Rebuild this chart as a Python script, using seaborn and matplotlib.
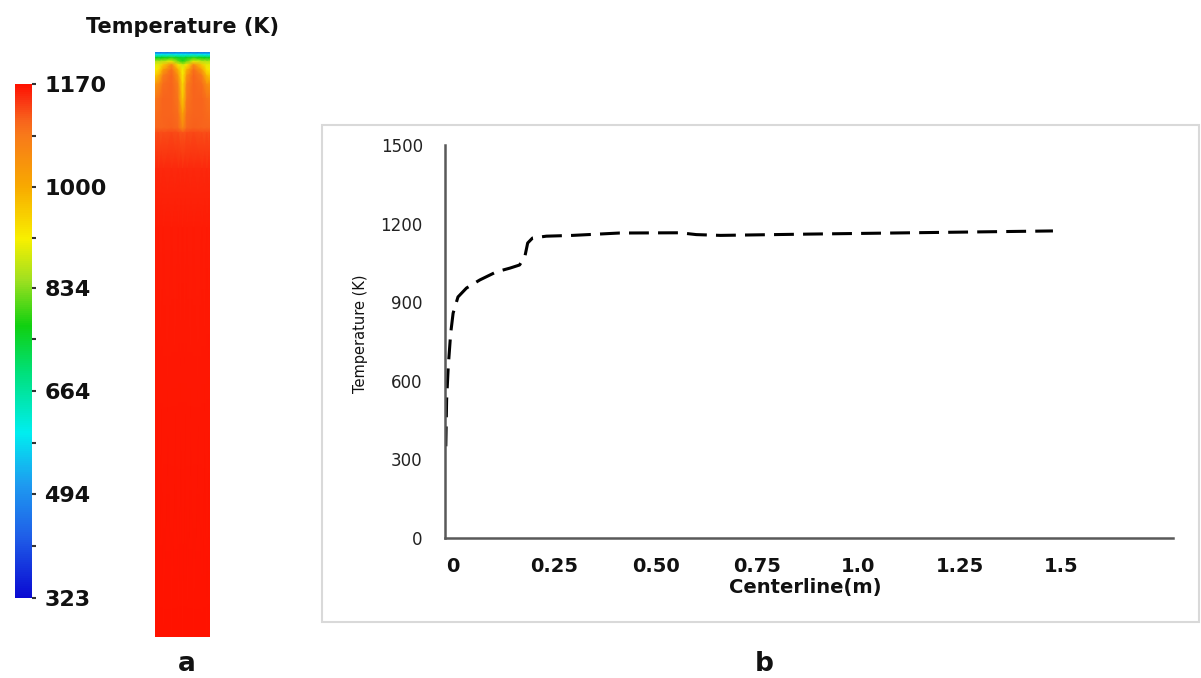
import numpy as np
import matplotlib
matplotlib.use("Agg")
import matplotlib.pyplot as plt
import matplotlib.transforms as mtransforms
from matplotlib.colors import LinearSegmentedColormap, Normalize
from matplotlib.patches import Rectangle
import seaborn as sns

# ---------------- data ----------------
centerline_m = [0.002, 0.004, 0.008, 0.014, 0.020, 0.032, 0.053, 0.086, 0.127,
                0.160, 0.184, 0.197, 0.204, 0.216, 0.25, 0.315, 0.43, 0.58,
                0.62, 0.68, 0.90, 1.10, 1.30, 1.50]
temperature_k = [350, 527, 654, 781, 858, 920, 954, 985, 1016,
                 1030, 1042, 1074, 1126, 1145, 1152, 1155, 1164, 1165,
                 1158, 1155, 1160, 1164, 1168, 1172]

y_ticks = [0, 300, 600, 900, 1200, 1500]
x_ticks = [0, 0.25, 0.5, 0.75, 1.0, 1.25, 1.5]
x_tick_labels = ["0", "0.25", "0.50", "0.75", "1.0", "1.25", "1.5"]

cbar_ticks = [323, 494, 664, 834, 1000, 1170]
cbar_minor = [408.5, 579, 749, 917, 1085]

# temperature contour (panel a): radial positions, depth from top, values (K)
field_r = [0, 0.06, 0.15, 0.30, 0.42, 0.50, 0.58, 0.70, 0.85, 0.94, 1.0]
field_z = [0.000, 0.005, 0.010, 0.016, 0.022, 0.030, 0.040, 0.055, 0.080,
           0.105, 0.130, 0.138, 0.200, 0.300, 1.000]
field_T = [
    [420, 420, 420, 425, 430, 430, 430, 425, 420, 420, 420],
    [590, 590, 600, 610, 600, 590, 600, 610, 600, 590, 590],
    [760, 760, 770, 790, 760, 740, 760, 790, 770, 760, 760],
    [860, 860, 870, 900, 820, 780, 820, 900, 870, 860, 860],
    [900, 900, 960, 1060, 930, 880, 930, 1060, 960, 900, 900],
    [920, 930, 1020, 1100, 990, 910, 990, 1100, 1020, 930, 920],
    [960, 980, 1080, 1110, 1040, 920, 1040, 1110, 1080, 980, 960],
    [1040, 1050, 1100, 1110, 1075, 940, 1075, 1110, 1100, 1050, 1040],
    [1090, 1095, 1108, 1110, 1090, 960, 1090, 1110, 1108, 1095, 1090],
    [1100, 1102, 1110, 1110, 1100, 1010, 1100, 1110, 1110, 1102, 1100],
    [1108, 1108, 1110, 1112, 1105, 1060, 1105, 1112, 1110, 1108, 1108],
    [1125, 1125, 1126, 1128, 1124, 1118, 1124, 1128, 1126, 1125, 1125],
    [1152, 1152, 1152, 1152, 1152, 1152, 1152, 1152, 1152, 1152, 1152],
    [1163, 1163, 1163, 1163, 1163, 1163, 1163, 1163, 1163, 1163, 1163],
    [1167, 1167, 1167, 1167, 1167, 1167, 1167, 1167, 1167, 1167, 1167],
]

# ---------------- style ----------------
sns.set_theme(style="white")
plt.rcParams['font.family'] = ['DejaVu Sans']

W, H = 1201, 678
fig = plt.figure(figsize=(W / 100, H / 100), dpi=100)
fig.patch.set_facecolor("white")


def box(x0, y0, x1, y1):
    return [x0 / W, 1 - y1 / H, (x1 - x0) / W, (y1 - y0) / H]


cmap = LinearSegmentedColormap.from_list("fluent", [
    (0.00, "#0a0ad2"),
    (0.12, "#1f5fe8"),
    (0.22, "#1e9af0"),
    (0.32, "#00eef0"),
    (0.44, "#00e078"),
    (0.53, "#10d010"),
    (0.62, "#a0e020"),
    (0.70, "#f8f000"),
    (0.80, "#f8aa00"),
    (0.90, "#f87a1a"),
    (0.93, "#f8641c"),
    (0.97, "#fa3412"),
    (1.00, "#ff1200"),
])
norm = Normalize(vmin=323, vmax=1170)

# ---------------- panel a: contour ----------------
axc = fig.add_axes(box(155, 52, 210, 637))
R, Z = np.meshgrid(field_r, field_z)
mesh = axc.pcolormesh(R, Z, np.array(field_T, dtype=float), cmap=cmap, norm=norm,
                      shading="gouraud")
axc.set_xlim(0, 1)
axc.set_ylim(1, 0)
axc.axis("off")

# colour bar
cax = fig.add_axes(box(15, 84, 32, 598))
cb = fig.colorbar(mesh, cax=cax, orientation="vertical")
cb.outline.set_visible(False)
cb.set_ticks(cbar_ticks)
cb.set_ticklabels([str(t) for t in cbar_ticks])
cax.yaxis.set_ticks(cbar_minor, minor=True)
cax.tick_params(axis="y", which="major", length=3, width=1.5, color="#333333",
                pad=6, labelsize=16, labelcolor="#111111")
cax.tick_params(axis="y", which="minor", length=3, width=1.5, color="#333333")
for lbl in cax.get_yticklabels():
    lbl.set_fontweight("bold")

fig.text(183 / W, 1 - 27 / H, "Temperature (K)", ha="center", va="center",
         fontsize=15, fontweight="bold", color="#111111")
fig.text(187 / W, 1 - 664 / H, "a", ha="center", va="center",
         fontsize=19, fontweight="bold", color="#111111")

# ---------------- panel b: line chart ----------------
fig.add_artist(Rectangle((322 / W, 1 - 622 / H), (1199 - 322) / W, (622 - 125) / H,
                         transform=fig.transFigure, fill=False,
                         edgecolor="#d9d9d9", linewidth=1.5))

ax = fig.add_axes(box(445, 145, 1173, 538))
ax.set_facecolor("none")
sns.lineplot(x=centerline_m, y=temperature_k, ax=ax, color="black",
             linewidth=2.2, linestyle=(0, (6.5, 3.0)))
ax.set_xlim(0, (1173 - 445) / 405.3)
ax.set_ylim(0, 1500)
for s in ["top", "right"]:
    ax.spines[s].set_visible(False)
for s in ["left", "bottom"]:
    ax.spines[s].set_color("#595959")
    ax.spines[s].set_linewidth(1.8)

ax.set_yticks(y_ticks)
ax.set_yticklabels([str(t) for t in y_ticks])
ax.set_xticks(x_ticks)
ax.set_xticklabels(x_tick_labels)
ax.tick_params(axis="x", length=0, pad=14, labelsize=14, labelcolor="#111111")
ax.tick_params(axis="y", length=0, pad=16, labelsize=12, labelcolor="#222222")
offset = mtransforms.ScaledTranslation(8 / 100, 0, fig.dpi_scale_trans)
for lbl in ax.get_xticklabels():
    lbl.set_fontweight("bold")
    lbl.set_transform(lbl.get_transform() + offset)

ax.set_xlabel("Centerline(m)", fontsize=14, fontweight="bold", color="#111111")
ax.xaxis.set_label_coords((805 - 445) / 728, (538 - 578) / 393)
ax.set_ylabel("Temperature (K)", fontsize=10.5, color="#111111", va="center")
ax.yaxis.set_label_coords((360 - 445) / 728, (538 - 334) / 393)

fig.text(764 / W, 1 - 664 / H, "b", ha="center", va="center",
         fontsize=19, fontweight="bold", color="#111111")

fig.savefig("out.png", dpi=100, facecolor="white")
